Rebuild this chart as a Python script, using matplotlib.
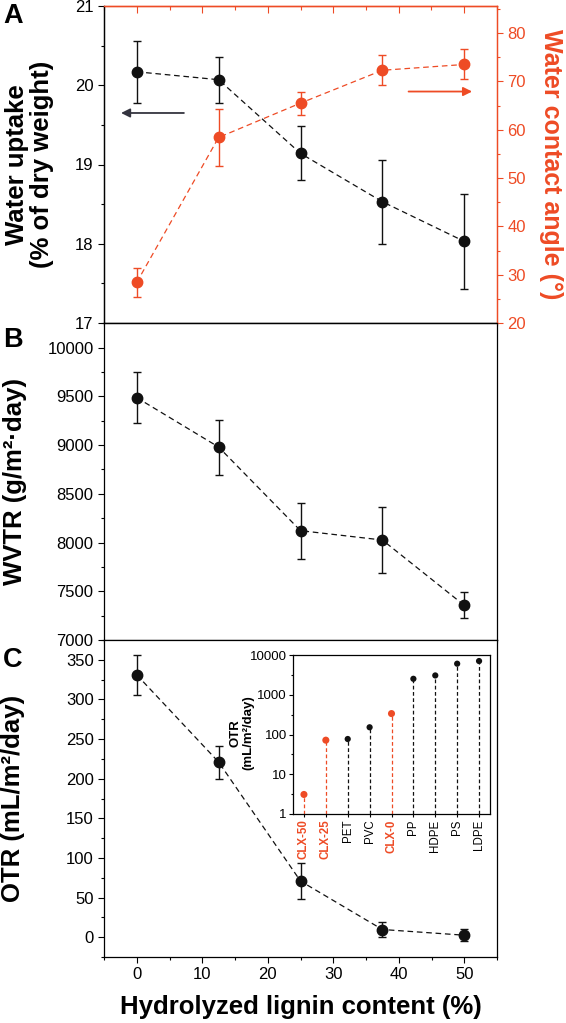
import matplotlib
matplotlib.use('Agg')
import matplotlib.pyplot as plt
from matplotlib.ticker import MultipleLocator, FixedLocator, FuncFormatter, NullFormatter

plt.rcParams['font.family'] = ['Liberation Sans', 'DejaVu Sans']
plt.rcParams['axes.linewidth'] = 0.9

RED = '#EE4B25'
DARK = '#111111'

# ---------------- data ----------------
lignin = [0, 12.5, 25, 37.5, 50]
uptake = [20.17, 20.07, 19.14, 18.53, 18.03]
uptake_err = [0.39, 0.29, 0.34, 0.53, 0.60]
angle = [28.4, 58.4, 65.5, 72.3, 73.5]
angle_err = [3.0, 5.9, 2.4, 3.1, 3.1]
wvtr = [9487, 8980, 8122, 8026, 7356]
wvtr_err = [262, 282, 287, 340, 135]
otr = [331, 221, 70.8, 9.7, 2.5]
otr_err = [25.5, 20.8, 22.8, 8.9, 7.7]

inset_labels = ['CLX-50', 'CLX-25', 'PET', 'PVC', 'CLX-0', 'PP', 'HDPE', 'PS', 'LDPE']
inset_otr = [3.1, 72, 77, 152, 336, 2520, 3060, 6040, 7050]
inset_is_clx = [True, True, False, False, True, False, False, False, False]

x_ticks = [0, 10, 20, 30, 40, 50]

# ---------------- figure ----------------
FW, FH = 566, 1023
fig = plt.figure(figsize=(FW / 100, FH / 100), dpi=100)
L, W, H = 104 / FW, 393 / FW, 317 / FH
axA = fig.add_axes([L, 1 - 323 / FH, W, H])
axB = fig.add_axes([L, 1 - 640 / FH, W, H])
axC = fig.add_axes([L, 1 - 957 / FH, W, H])

DASH = (0, (4.5, 3))


def style_main(ax, show_xlabels):
    ax.set_xlim(-5, 55)
    ax.xaxis.set_major_locator(FixedLocator(x_ticks))
    ax.xaxis.set_minor_locator(MultipleLocator(5))
    ax.tick_params(which='major', direction='out', length=4.5, width=0.8,
                   labelsize=12, colors='black', pad=3)
    ax.tick_params(which='minor', direction='out', length=2.5, width=0.8)
    ax.tick_params(axis='x', labelbottom=show_xlabels, top=False, which='both')
    ax.tick_params(axis='y', right=False, which='both')


def plot_series(ax, x, y, err, color):
    ax.plot(x, y, linestyle=DASH, color=color, lw=0.9, zorder=2)
    ax.errorbar(x, y, yerr=err, fmt='o', color=color, ms=7.5, capsize=2.6,
                elinewidth=1.0, capthick=1.0, zorder=3)


# ---------- Panel A ----------
style_main(axA, False)
axA.set_ylim(17, 21)
axA.yaxis.set_major_locator(MultipleLocator(1))
axA.yaxis.set_minor_locator(MultipleLocator(0.5))
plot_series(axA, lignin, uptake, uptake_err, DARK)
axA.set_ylabel('Water uptake\n(% of dry weight)', fontsize=18.5, fontweight='bold',
               linespacing=1.05)
axA.yaxis.set_label_coords(-0.127, 0.5)

axA2 = axA.twinx()
axA2.set_ylim(20, 85.6)
axA2.yaxis.set_major_locator(MultipleLocator(10))
axA2.yaxis.set_minor_locator(MultipleLocator(5))
axA2.tick_params(axis='y', which='major', direction='out', length=4.5, width=0.8,
                 labelsize=12, colors=RED, pad=3)
axA2.tick_params(axis='y', which='minor', direction='out', length=2.5, width=0.8,
                 colors=RED)
plot_series(axA2, lignin, angle, angle_err, RED)
for sp in ('right', 'top'):
    axA2.spines[sp].set_color(RED)
    axA.spines[sp].set_color(RED)
axA2.set_ylabel('Water contact angle (°)', fontsize=18, fontweight='bold', color=RED)
axA2.yaxis.label.set(rotation=270, va='bottom', ha='center', rotation_mode='anchor')
axA2.yaxis.set_label_coords(1.106, 0.5)

secA = axA.secondary_xaxis('top')
secA.xaxis.set_major_locator(FixedLocator(x_ticks))
secA.xaxis.set_minor_locator(MultipleLocator(5))
secA.tick_params(which='major', direction='in', length=5, width=0.8, colors=RED,
                 labeltop=False)
secA.tick_params(which='minor', direction='in', length=3, width=0.8, colors=RED)
secA.spines['top'].set_color(RED)

# arrows
axA.annotate('', xy=(-2.4, 19.65), xytext=(7.2, 19.65),
             arrowprops=dict(arrowstyle='-|>', color='#34343f', lw=1.3,
                             mutation_scale=13, shrinkA=0, shrinkB=0))
axA2.annotate('', xy=(51.2, 67.9), xytext=(41.5, 67.9),
              arrowprops=dict(arrowstyle='-|>', color=RED, lw=1.3,
                              mutation_scale=13, shrinkA=0, shrinkB=0))

# ---------- Panel B ----------
style_main(axB, False)
axB.set_ylim(7000, 10253)
axB.yaxis.set_major_locator(MultipleLocator(500))
axB.yaxis.set_minor_locator(MultipleLocator(250))
plot_series(axB, lignin, wvtr, wvtr_err, DARK)
axB.set_ylabel('WVTR (g/m²·day)', fontsize=18.5, fontweight='bold')
axB.yaxis.set_label_coords(-0.196, 0.5)

# ---------- Panel C ----------
style_main(axC, True)
axC.set_ylim(-25, 375)
axC.yaxis.set_major_locator(MultipleLocator(50))
axC.yaxis.set_minor_locator(MultipleLocator(25))
plot_series(axC, lignin, otr, otr_err, DARK)
axC.set_ylabel('OTR (mL/m²/day)', fontsize=18.5, fontweight='bold')
axC.yaxis.set_label_coords(-0.200, 0.5)
axC.set_xlabel('Hydrolyzed lignin content (%)', fontsize=18.5, fontweight='bold',
               labelpad=9)

# ---------- Inset ----------
axI = fig.add_axes([293 / FW, 1 - 814 / FH, 197 / FW, 159 / FH])
axI.set_yscale('log')
axI.set_ylim(1, 10000)
axI.set_xlim(-0.5, len(inset_labels) - 0.5)
idx = list(range(len(inset_labels)))
cols = [RED if c else DARK for c in inset_is_clx]
sizes = [26 if c else 20 for c in inset_is_clx]
axI.vlines(idx, 1, inset_otr, colors=cols, linestyles=(0, (3, 2)), lw=0.9, zorder=2)
axI.scatter(idx, inset_otr, c=cols, s=sizes, zorder=3, linewidths=0)
axI.yaxis.set_major_locator(FixedLocator([1, 10, 100, 1000, 10000]))
axI.yaxis.set_major_formatter(FuncFormatter(lambda v, p: f'{v:g}'))
axI.yaxis.set_minor_locator(FixedLocator([10 ** (k + 0.5) for k in range(4)]))
axI.yaxis.set_minor_formatter(NullFormatter())
axI.set_xticks(idx)
axI.set_xticklabels(inset_labels, rotation=90, fontsize=8.3)
for lab, c in zip(axI.get_xticklabels(), inset_is_clx):
    if c:
        lab.set_color(RED)
        lab.set_fontweight('bold')
axI.tick_params(axis='y', which='major', direction='out', length=3, width=0.8,
                labelsize=9.5, pad=1.5)
axI.tick_params(axis='y', which='minor', direction='out', length=1.8, width=0.8)
axI.tick_params(axis='x', direction='out', length=2.5, width=0.8, pad=1.5)
axI.set_ylabel('OTR\n(mL/m²/day)', fontsize=9.5, fontweight='bold', linespacing=1.0)
axI.yaxis.set_label_coords(-0.198, 0.51)

# ---------- Panel letters ----------
for letter, top in (('A', 3), ('B', 327), ('C', 647)):
    fig.text(3 / FW, 1 - top / FH, letter, fontsize=19.5, fontweight='bold',
             va='top', ha='left')

fig.savefig('out.png', dpi=100)
